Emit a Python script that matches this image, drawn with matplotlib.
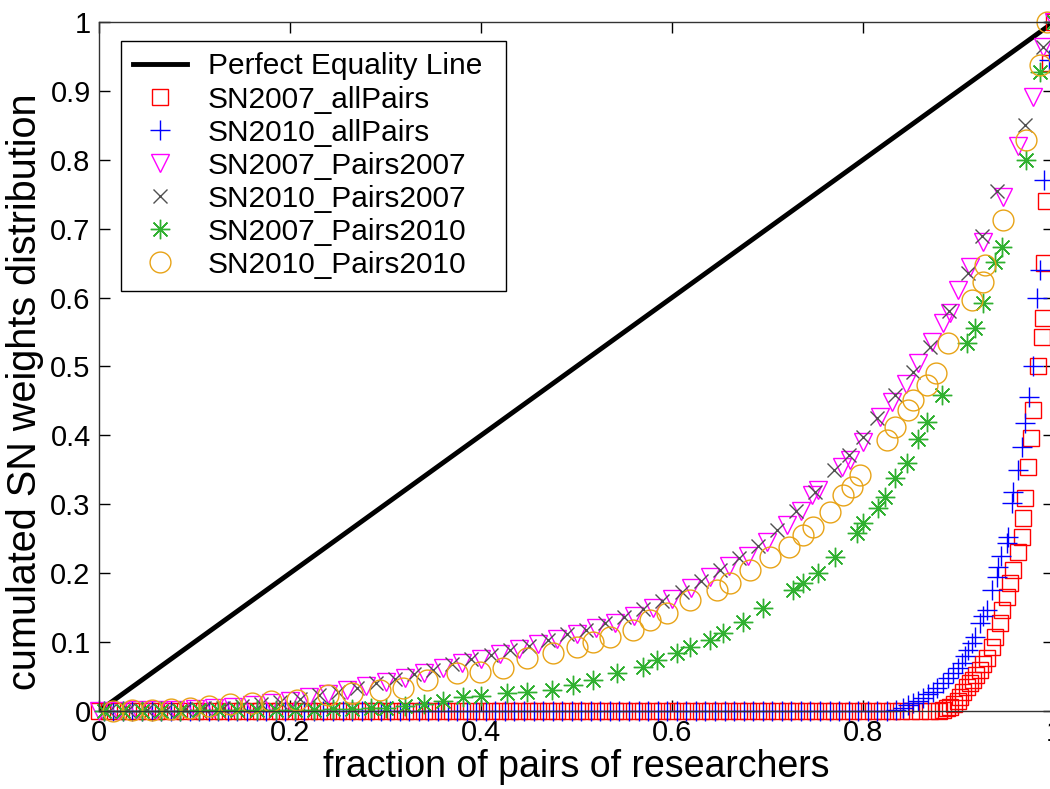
import matplotlib
matplotlib.use("Agg")
import matplotlib.pyplot as plt

plt.rcParams['font.family'] = ['Liberation Sans', 'DejaVu Sans']

# SN2007_allPairs (red squares)
red_x = [0.00, 0.01, 0.02, 0.03, 0.04, 0.05, 0.06, 0.07, 0.08, 0.09,
         0.10, 0.11, 0.12, 0.13, 0.14, 0.15, 0.16, 0.17, 0.18, 0.19,
         0.20, 0.21, 0.22, 0.23, 0.24, 0.25, 0.26, 0.27, 0.28, 0.29,
         0.30, 0.31, 0.32, 0.33, 0.34, 0.35, 0.36, 0.37, 0.38, 0.39,
         0.40, 0.41, 0.42, 0.43, 0.44, 0.45, 0.46, 0.47, 0.48, 0.49,
         0.50, 0.51, 0.52, 0.53, 0.54, 0.55, 0.56, 0.57, 0.58, 0.59,
         0.60, 0.61, 0.62, 0.63, 0.64, 0.65, 0.66, 0.67, 0.68, 0.69,
         0.70, 0.71, 0.72, 0.73, 0.74, 0.75, 0.76, 0.77, 0.78, 0.79,
         0.80, 0.81, 0.82, 0.83, 0.84, 0.85, 0.86, 0.87, 0.88,
         0.884, 0.888, 0.891, 0.895, 0.899, 0.902, 0.905, 0.909, 0.912, 0.915,
         0.918, 0.922, 0.926, 0.930, 0.935, 0.938, 0.943, 0.946, 0.951, 0.954,
         0.957, 0.962, 0.966, 0.968, 0.970, 0.973, 0.976, 0.978, 0.983, 0.987,
         0.988, 0.990, 0.992, 0.996, 1.000]
red_y = [0.0] * 89 + [
         0.002, 0.004, 0.006, 0.010, 0.015, 0.020, 0.027, 0.035, 0.040, 0.045,
         0.052, 0.060, 0.068, 0.077, 0.093, 0.107, 0.128, 0.147, 0.165, 0.186,
         0.205, 0.230, 0.253, 0.280, 0.309, 0.354, 0.396, 0.437, 0.500, 0.543,
         0.570, 0.650, 0.740, 0.940, 1.000]

# SN2010_allPairs (blue pluses)
blue_x = [0.005, 0.015, 0.025, 0.035, 0.045, 0.055, 0.065, 0.075, 0.085, 0.095,
          0.105, 0.115, 0.125, 0.135, 0.145, 0.155, 0.165, 0.175, 0.185, 0.195,
          0.205, 0.215, 0.225, 0.235, 0.245, 0.255, 0.265, 0.275, 0.285, 0.295,
          0.305, 0.315, 0.325, 0.335, 0.345, 0.355, 0.365, 0.375, 0.385, 0.395,
          0.405, 0.415, 0.425, 0.435, 0.445, 0.455, 0.465, 0.475, 0.485, 0.495,
          0.505, 0.515, 0.525, 0.535, 0.545, 0.555, 0.565, 0.575, 0.585, 0.595,
          0.605, 0.615, 0.625, 0.635, 0.645, 0.655, 0.665, 0.675, 0.685, 0.695,
          0.705, 0.715, 0.725, 0.735, 0.745, 0.755, 0.765, 0.775, 0.785, 0.795,
          0.805, 0.815, 0.825,
          0.835, 0.842, 0.847, 0.852, 0.858, 0.863, 0.868, 0.873, 0.878, 0.884,
          0.889, 0.894, 0.899, 0.904, 0.907, 0.910, 0.914, 0.917, 0.922, 0.926,
          0.930, 0.935, 0.940, 0.941, 0.945, 0.951, 0.952, 0.956, 0.957, 0.962,
          0.966, 0.970, 0.974, 0.978, 0.982, 0.985, 0.990, 0.995, 1.000]
blue_y = [0.0] * 83 + [
          0.001, 0.004, 0.008, 0.012, 0.015, 0.019, 0.024, 0.028, 0.034, 0.041,
          0.048, 0.055, 0.062, 0.070, 0.080, 0.089, 0.098, 0.107, 0.128, 0.138,
          0.147, 0.176, 0.195, 0.209, 0.225, 0.244, 0.253, 0.302, 0.318, 0.350,
          0.383, 0.418, 0.456, 0.500, 0.600, 0.640, 0.770, 0.945, 1.000]

# SN2007_Pairs2007 (magenta triangles)
pink_x = [0.00, 0.02, 0.04, 0.06, 0.08, 0.10, 0.12, 0.14, 0.16, 0.18,
          0.20, 0.22, 0.24, 0.26, 0.28, 0.30, 0.32, 0.34, 0.36, 0.38,
          0.40, 0.42, 0.44, 0.46, 0.48, 0.50, 0.52, 0.54, 0.56, 0.58,
          0.60, 0.62, 0.64, 0.66, 0.68, 0.70, 0.72, 0.735, 0.747, 0.753,
          0.778, 0.786, 0.800, 0.818, 0.830, 0.845, 0.858, 0.872, 0.884, 0.891,
          0.900, 0.912, 0.926, 0.947, 0.962, 0.978, 0.989, 1.000]
pink_y = [0.000, 0.0005, 0.001, 0.0015, 0.002, 0.003, 0.004, 0.006, 0.008, 0.011,
          0.015, 0.020, 0.025, 0.030, 0.036, 0.042, 0.048, 0.055, 0.062, 0.070,
          0.076, 0.082, 0.090, 0.097, 0.105, 0.112, 0.120, 0.128, 0.138, 0.150,
          0.163, 0.178, 0.194, 0.210, 0.225, 0.245, 0.270, 0.290, 0.313, 0.321,
          0.354, 0.364, 0.390, 0.427, 0.449, 0.475, 0.505, 0.535, 0.563, 0.578,
          0.611, 0.645, 0.680, 0.746, 0.820, 0.891, 0.964, 1.000]

# SN2010_Pairs2007 (gray crosses)
gray_x = [0.01, 0.03, 0.05, 0.07, 0.09, 0.11, 0.13, 0.15, 0.17, 0.19,
          0.21, 0.23, 0.25, 0.27, 0.29, 0.31, 0.33, 0.35, 0.37, 0.39,
          0.41, 0.43, 0.45, 0.47, 0.49, 0.51, 0.53, 0.55, 0.57, 0.59,
          0.61, 0.63, 0.65, 0.67, 0.69, 0.71, 0.73, 0.75, 0.77, 0.785,
          0.800, 0.815, 0.834, 0.852, 0.870, 0.890, 0.910, 0.925, 0.940, 0.970,
          0.989, 1.000]
gray_y = [0.000, 0.001, 0.001, 0.002, 0.003, 0.004, 0.005, 0.007, 0.010, 0.013,
          0.018, 0.023, 0.028, 0.034, 0.040, 0.046, 0.053, 0.060, 0.068, 0.075,
          0.081, 0.088, 0.095, 0.103, 0.111, 0.118, 0.127, 0.136, 0.148, 0.160,
          0.173, 0.188, 0.205, 0.222, 0.240, 0.262, 0.290, 0.318, 0.350, 0.372,
          0.398, 0.425, 0.459, 0.492, 0.528, 0.580, 0.636, 0.690, 0.755, 0.850,
          0.964, 1.000]

# SN2007_Pairs2010 (green asterisks)
green_x = [0.005, 0.025, 0.045, 0.065, 0.085, 0.105, 0.125, 0.145, 0.165, 0.185,
           0.205, 0.225, 0.245, 0.265, 0.285, 0.300, 0.320, 0.340, 0.360, 0.381,
           0.400, 0.427, 0.448, 0.474, 0.496, 0.517, 0.542, 0.570, 0.584, 0.605,
           0.619, 0.640, 0.653, 0.674, 0.695, 0.727, 0.737, 0.753, 0.771, 0.794,
           0.800, 0.816, 0.823, 0.834, 0.846, 0.858, 0.867, 0.883, 0.909, 0.917,
           0.926, 0.938, 0.946, 0.971, 0.985, 1.000]
green_y = [0.000, 0.000, 0.000, 0.000, 0.000, 0.001, 0.001, 0.001, 0.001, 0.002,
           0.002, 0.002, 0.003, 0.003, 0.004, 0.005, 0.007, 0.010, 0.014, 0.020,
           0.022, 0.026, 0.027, 0.030, 0.038, 0.045, 0.055, 0.064, 0.074, 0.084,
           0.093, 0.103, 0.113, 0.129, 0.149, 0.175, 0.186, 0.200, 0.224, 0.258,
           0.273, 0.295, 0.311, 0.338, 0.360, 0.394, 0.420, 0.459, 0.534, 0.556,
           0.592, 0.652, 0.673, 0.800, 0.927, 1.000]

# SN2010_Pairs2010 (orange circles)
orange_x = [0.015, 0.035, 0.055, 0.075, 0.095, 0.115, 0.137, 0.160, 0.180, 0.207,
            0.240, 0.265, 0.294, 0.318, 0.343, 0.375, 0.399, 0.423, 0.448, 0.475,
            0.500, 0.517, 0.535, 0.559, 0.577, 0.595, 0.619, 0.647, 0.661, 0.682,
            0.703, 0.722, 0.737, 0.748, 0.765, 0.779, 0.788, 0.797, 0.825, 0.834,
            0.847, 0.852, 0.867, 0.876, 0.889, 0.914, 0.926, 0.928, 0.947, 0.971,
            0.985, 0.993]
orange_y = [0.000, 0.001, 0.002, 0.003, 0.005, 0.007, 0.010, 0.012, 0.014, 0.016,
            0.023, 0.026, 0.030, 0.033, 0.045, 0.055, 0.057, 0.062, 0.077, 0.084,
            0.093, 0.100, 0.107, 0.118, 0.132, 0.142, 0.161, 0.176, 0.186, 0.205,
            0.224, 0.238, 0.255, 0.267, 0.289, 0.313, 0.325, 0.343, 0.393, 0.412,
            0.437, 0.451, 0.473, 0.490, 0.534, 0.597, 0.623, 0.647, 0.713, 0.829,
            0.938, 1.000]

equality_x = [0, 1]
equality_y = [0, 1]

fig = plt.figure(figsize=(10.5, 7.89), dpi=100)
ax = fig.add_axes([0.0943, 0.0989, 0.9095, 0.8733])

ax.plot(equality_x, equality_y, color='black', lw=3.5, label='Perfect Equality Line')
ax.plot(red_x, red_y, ls='none', marker='s', ms=12, mfc='none', mec='#ff0000', mew=1.0,
        label='SN2007_allPairs', clip_on=False)
ax.plot(blue_x, blue_y, ls='none', marker='+', ms=15, mec='#0000ff', mew=1.0,
        label='SN2010_allPairs', clip_on=False)
ax.plot(pink_x, pink_y, ls='none', marker='v', ms=13, mfc='none', mec='#ff00ff', mew=1.0,
        label='SN2007_Pairs2007', clip_on=False)
ax.plot(gray_x, gray_y, ls='none', marker='x', ms=10, mec='#505050', mew=1.0,
        label='SN2010_Pairs2007', clip_on=False)
ax.plot(green_x, green_y, ls='none', marker=(8, 2, 0), ms=14, mec='#30b030', mew=1.0,
        label='SN2007_Pairs2010', clip_on=False)
ax.plot(orange_x, orange_y, ls='none', marker='o', ms=15, mfc='none', mec='#e8a317', mew=1.0,
        label='SN2010_Pairs2010', clip_on=False)

ax.set_xlim(0, 1)
ax.set_ylim(0, 1)
xt = [0, 0.2, 0.4, 0.6, 0.8, 1]
yt = [0, 0.1, 0.2, 0.3, 0.4, 0.5, 0.6, 0.7, 0.8, 0.9, 1]
ax.set_xticks(xt)
ax.set_xticklabels(['%g' % v for v in xt])
ax.set_yticks(yt)
ax.set_yticklabels(['%g' % v for v in yt])
ax.tick_params(direction='in', length=8, width=1, top=True, right=True,
               labelsize=21, pad=6)
for s in ax.spines.values():
    s.set_linewidth(1.0)
    s.set_color('#333333')

ax.set_xlabel('fraction of pairs of researchers', fontsize=27, labelpad=1)
ax.set_ylabel('cumulated SN weights distribution', fontsize=28.5)
ax.yaxis.set_label_coords(-0.058, 0.463)

leg = ax.legend(loc='upper left', bbox_to_anchor=(0.023, 0.5, 0.403, 0.473),
                mode='expand', borderaxespad=0,
                fontsize=21.5, frameon=True, fancybox=False, framealpha=1,
                edgecolor='black', labelspacing=0.17, handlelength=1.8,
                handletextpad=0.7, borderpad=0.4)
leg.get_frame().set_linewidth(1.0)

fig.savefig('out.png', dpi=100)
